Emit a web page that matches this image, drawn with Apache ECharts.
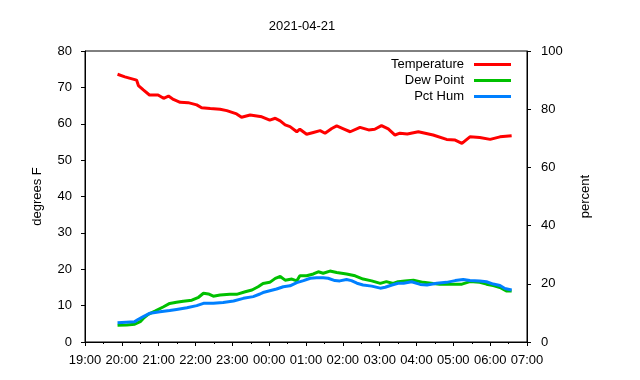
<!DOCTYPE html>
<html>
<head>
<meta charset="utf-8">
<script src="https://cdn.jsdelivr.net/npm/echarts@6/dist/echarts.min.js"></script>
<style>html,body{margin:0;padding:0;background:#fff}#c{width:640px;height:380px}</style>
</head>
<body>
<div id="c"></div>
<script>
const title = '2021-04-21';
const xTickLabels = ['19:00','20:00','21:00','22:00','23:00','00:00','01:00','02:00','03:00','04:00','05:00','06:00','07:00'];

const tempTimes = ['19:53','20:05','20:24','20:27','20:35','20:45','20:59','21:08','21:16','21:24','21:35','21:48','22:02','22:10','22:24','22:40','22:51','23:07','23:15','23:29','23:48','00:01','00:10','00:18','00:26','00:34','00:45','00:50','01:01','01:12','01:23','01:31','01:42','01:50','02:01','02:12','02:28','02:42','02:52','03:03','03:14','03:25','03:33','03:45','04:03','04:27','04:49','05:03','05:14','05:27','05:43','06:00','06:16','06:35'];
const tempValues = [73.6,72.9,72.0,70.5,69.3,67.9,67.9,67.0,67.6,66.7,65.9,65.8,65.2,64.4,64.2,64.0,63.6,62.7,61.8,62.4,61.9,61.0,61.5,60.8,59.7,59.2,57.8,58.5,57.1,57.6,58.1,57.4,58.7,59.4,58.6,57.8,59.0,58.3,58.5,59.5,58.6,56.9,57.4,57.2,57.8,56.9,55.7,55.5,54.6,56.4,56.2,55.7,56.4,56.7];

const dewTimes = ['19:53','20:08','20:21','20:30','20:35','20:43','20:54','21:08','21:18','21:29','21:40','21:54','22:05','22:13','22:21','22:29','22:40','22:56','23:07','23:21','23:32','23:42','23:50','00:01','00:10','00:18','00:26','00:37','00:45','00:50','01:01','01:12','01:20','01:28','01:39','01:50','02:06','02:20','02:33','02:47','03:01','03:11','03:22','03:30','03:41','03:55','04:11','04:27','04:38','04:55','05:14','05:27','05:43','05:54','06:05','06:16','06:27','06:35'];
const dewValues = [4.6,4.7,4.9,5.6,6.5,7.6,8.5,9.7,10.6,10.9,11.2,11.5,12.3,13.4,13.2,12.6,12.9,13.1,13.1,13.8,14.3,15.2,16.1,16.4,17.5,18.0,17.0,17.3,16.8,18.2,18.2,18.7,19.3,18.9,19.5,19.1,18.7,18.2,17.3,16.8,16.1,16.6,16.1,16.6,16.8,17.0,16.4,16.1,15.9,15.9,15.9,16.6,16.4,15.9,15.5,15.0,14.0,14.0];

const humTimes = ['19:53','20:21','20:27','20:35','20:46','21:02','21:18','21:29','21:46','22:02','22:13','22:29','22:45','23:02','23:18','23:34','23:45','23:50','00:12','00:23','00:34','00:45','00:56','01:07','01:17','01:28','01:36','01:47','01:55','02:06','02:14','02:23','02:33','02:47','03:01','03:09','03:20','03:30','03:39','03:52','04:06','04:17','04:33','04:49','05:03','05:16','05:27','05:43','05:54','06:05','06:16','06:24','06:35'];
const humValues = [6.6,7.0,7.8,8.7,9.9,10.4,10.8,11.2,11.8,12.5,13.3,13.3,13.6,14.1,15.0,15.6,16.5,17.0,18.2,19.0,19.3,20.4,21.1,21.9,22.1,22.1,21.9,21.1,21.0,21.5,21.1,20.2,19.6,19.2,18.5,18.8,19.6,20.2,20.2,20.7,19.8,19.6,20.2,20.5,21.1,21.5,21.1,21.0,20.7,19.9,19.4,18.4,17.9];

function toMin(t){ const p=t.split(':'); let h=+p[0], m=+p[1]; let v=(h-19)*60+m; if(v<0) v+=1440; return v; }
function pairs(ts, vs){ return ts.map((t,i)=>[toMin(t), vs[i]]); }

const font = 'Liberation Sans, Arial, sans-serif';
const chart = echarts.init(document.getElementById('c'), null, {renderer:'canvas'});
chart.setOption({
  animation:false,
  backgroundColor:'#fff',
  title:{text:title, left:297, top:15, textAlign:'center', textStyle:{fontFamily:font,fontSize:13,fontWeight:'normal',color:'#000'}},
  grid:{left:85,right:113,top:51,bottom:38,show:true,borderColor:'#000',borderWidth:1,backgroundColor:'transparent'},
  legend:{orient:'vertical',right:129,top:58,padding:0,align:'right',itemWidth:37,itemHeight:3,itemGap:3,icon:'rect',
    textStyle:{fontFamily:font,fontSize:13,color:'#000',padding:[0,5,0,0]},
    data:['Temperature','Dew Point','Pct Hum']},
  xAxis:{type:'value',min:0,max:720,interval:60,
    axisLine:{lineStyle:{color:'#000'}},
    axisTick:{inside:false,length:4,lineStyle:{color:'#000'}},
    minorTick:{show:true,splitNumber:2,length:2,lineStyle:{color:'#000'}},
    splitLine:{show:false},
    axisLabel:{margin:12,color:'#000',fontFamily:font,fontSize:13,formatter:v=>xTickLabels[Math.round(v/60)]}},
  yAxis:[
    {type:'value',min:0,max:80,interval:10,position:'left',name:'degrees F',nameLocation:'middle',nameRotate:90,nameGap:41,
     nameTextStyle:{fontFamily:font,fontSize:13,color:'#000'},
     axisLine:{show:true,lineStyle:{color:'#000'}},axisTick:{show:true,length:4,lineStyle:{color:'#000'}},
     splitLine:{show:false},axisLabel:{margin:13,color:'#000',fontFamily:font,fontSize:13}},
    {type:'value',min:0,max:100,interval:20,position:'right',name:'percent',nameLocation:'middle',nameRotate:90,nameGap:52,
     nameTextStyle:{fontFamily:font,fontSize:13,color:'#000'},
     axisLine:{show:true,lineStyle:{color:'#000'}},axisTick:{show:true,length:4,lineStyle:{color:'#000'}},
     splitLine:{show:false},axisLabel:{margin:14,color:'#000',fontFamily:font,fontSize:13}}
  ],
  series:[
    {name:'Temperature',type:'line',yAxisIndex:0,showSymbol:false,color:'#ff0000',lineStyle:{width:3,color:'#ff0000'},data:pairs(tempTimes,tempValues)},
    {name:'Dew Point',type:'line',yAxisIndex:0,showSymbol:false,color:'#00c000',lineStyle:{width:3,color:'#00c000'},data:pairs(dewTimes,dewValues)},
    {name:'Pct Hum',type:'line',yAxisIndex:1,showSymbol:false,color:'#0080ff',lineStyle:{width:3,color:'#0080ff'},data:pairs(humTimes,humValues)}
  ]
});
</script>
</body>
</html>
